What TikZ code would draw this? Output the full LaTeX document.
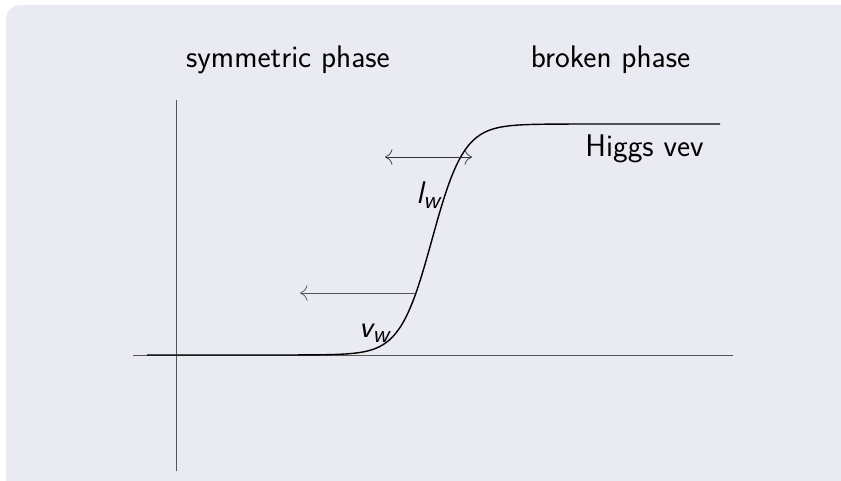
\documentclass[tikz,border=0pt]{standalone}
\usepackage{xcolor}
\usepackage{tikz}
\usetikzlibrary{arrows.meta,calc}
\definecolor{BgBlock}{HTML}{EAEAF2}
\definecolor{AxisGray}{HTML}{555555}
\newcommand{\wsub}{\raisebox{-2.8pt}{\fontsize{14}{14}\selectfont w}}

\begin{document}
\begin{tikzpicture}[x=0.02cm,y=-0.02cm,font=\sffamily\fontsize{17.8}{21}\selectfont,
  tip/.style={-{To[scale=1.7]}}]
\clip (0,0) rectangle (841,480);
\fill[BgBlock,rounded corners=8] (6,5) rectangle (870,510);
% axes
\coordinate (xl) at (133,355);
\coordinate (xr) at (733,355);
\coordinate (yt) at (176,100);
\coordinate (yb) at (176,471);
\draw[AxisGray] (xl) -- (xr);
\draw[AxisGray] (yb) -- (yt);
% wall profile
\draw[black,line width=0.8pt] plot[domain=147:720,samples=240] (\x,{239.5-115.5*tanh((\x-432)/32)});
\node[anchor=base] (sym) at (288,67) {symmetric phase};
\node[anchor=base] (brk) at (610.5,67) {broken phase};
\node[anchor=base] (vev) at (644.5,156) {Higgs vev};
\node (lw) at (428,195) {\itshape l\wsub};
\node (vw) at (374,333) {\itshape v\wsub};
% arrows
\coordinate (la) at (385,157);
\coordinate (lb) at (472,157);
\coordinate (va) at (415,293);
\coordinate (vb) at (300,293);
\draw[black!80,{To[scale=1.7]}-{To[scale=1.7]}] (la) -- (lb);
\draw[AxisGray,tip] (va) -- (vb);
\end{tikzpicture}
\end{document}
